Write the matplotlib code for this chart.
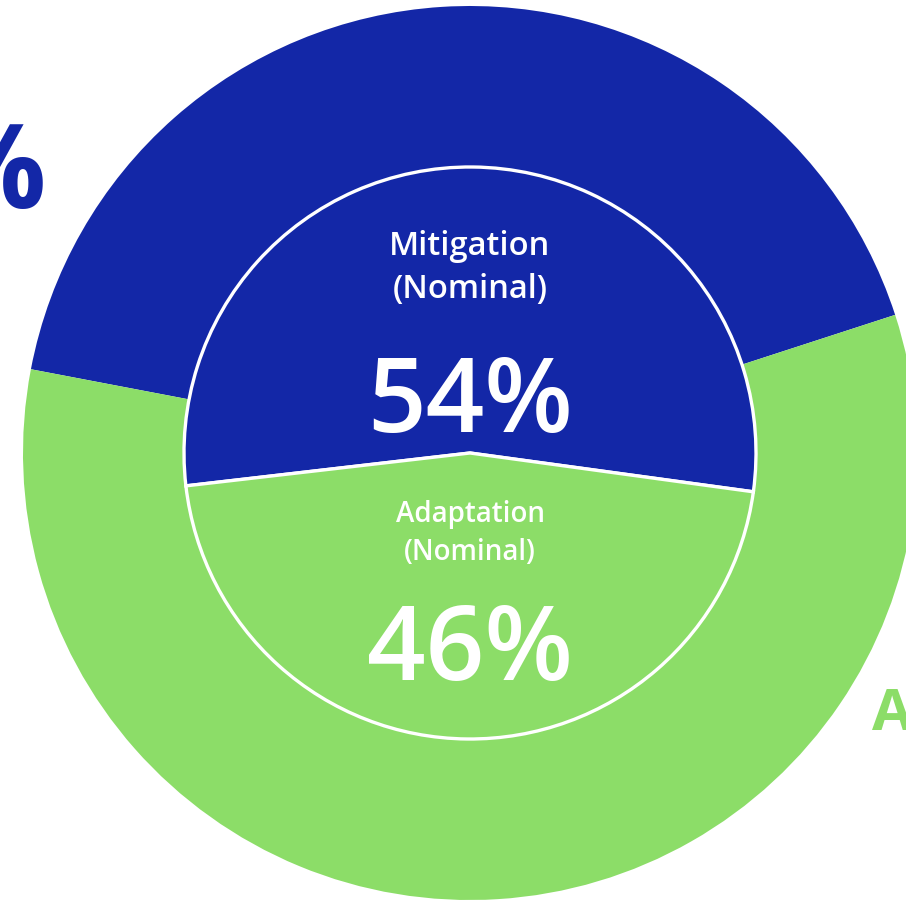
import matplotlib.pyplot as plt

# ---------- Data ---------- #
labels = ["Mitigation", "Adaptation"]
outer_share = [42, 58]          # outer ring (partly visible labels)
inner_share = [54, 46]          # nominal shares, inner pie
inner_title = ["Mitigation", "Adaptation"]
inner_sub = ["(Nominal)", "(Nominal)"]
colors = ["#1327A7", "#8CDD68"]

# ---------- Figure ---------- #
W, H = 906, 900
fig = plt.figure(figsize=(W / 100, H / 100), dpi=100)
ax = fig.add_axes([0, 0, 1, 1])

cx, cy = 470, H - 453
r_out, r_in = 447, 286

# outer ring
ax.pie(outer_share, colors=colors, radius=r_out, center=(cx, cy),
       startangle=18, counterclock=True, frame=True,
       wedgeprops=dict(width=r_out - r_in, linewidth=0))

# inner pie
ax.pie(inner_share, colors=colors, radius=r_in, center=(cx, cy),
       startangle=-7.8, counterclock=True, frame=True,
       wedgeprops=dict(edgecolor="white", linewidth=2.4))

ax.set_xlim(0, W)
ax.set_ylim(0, H)
ax.set_aspect("equal")
ax.axis("off")

font = "Open Sans"

# inner labels (y given from the top, baseline aligned)
def put(y_top, s, size, weight="semibold", color="white", x=cx, ha="center"):
    ax.text(x, H - y_top, s, ha=ha, va="baseline", color=color,
            fontsize=size, fontweight=weight, family=font)

put(255, inner_title[0], 23.5)
put(298, inner_sub[0], 23.5)
put(432, f"{inner_share[0]}%", 74)
put(522, inner_title[1], 20)
put(560, inner_sub[1], 20)
put(680, f"{inner_share[1]}%", 74)

# outer labels (cut by the figure edge, as in the original)
put(208, f"{outer_share[0]}%", 84, weight="bold", color=colors[0],
    x=46, ha="right")
put(730, labels[1], 42, weight="bold", color=colors[1], x=872, ha="left")

fig.savefig("out.png", dpi=100, facecolor="white")
